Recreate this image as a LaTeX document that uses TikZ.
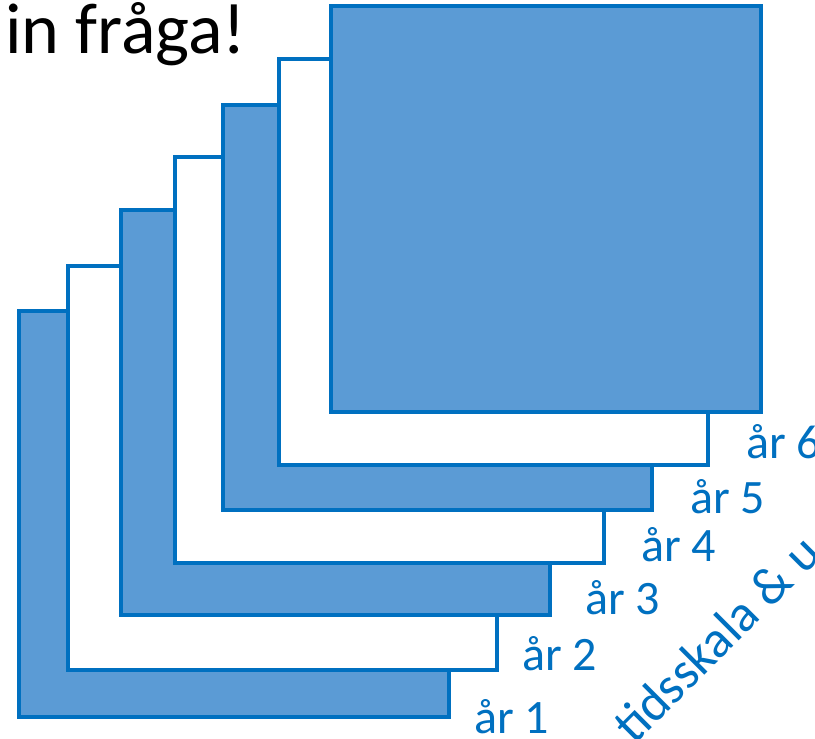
\documentclass[tikz,border=0pt]{standalone}
\usepackage{fontspec}
\setmainfont{Carlito}
\definecolor{boxfill}{HTML}{5B9BD5}
\definecolor{boxline}{HTML}{0070C0}
\tikzset{
  filledbox/.style={draw=boxline, fill=boxfill, line width=4.5pt},
  whitebox/.style={draw=boxline, fill=white, line width=4.5pt},
  yearlabel/.style={anchor=base west, inner sep=0pt, text=boxline, font=\fontsize{48}{54}\selectfont},
}
\begin{document}
\begin{tikzpicture}[x=1pt,y=-1pt]
\useasboundingbox (0,0) rectangle (815,739);
\fill[white] (0,0) rectangle (815,739);
\draw[filledbox] (19,311) rectangle (449,717);
\draw[whitebox] (68,266) rectangle (497,670);
\draw[filledbox] (121,210) rectangle (550,615);
\draw[whitebox] (175,157) rectangle (604,563);
\draw[filledbox] (223,105) rectangle (652,510);
\draw[whitebox] (279,59) rectangle (708,465);
\draw[filledbox] (331,6) rectangle (761,412);
\node[yearlabel] (y1) at (474,733) {år 1};
\node[yearlabel] (y2) at (522,670) {år 2};
\node[yearlabel] (y3) at (585,614) {år 3};
\node[yearlabel] (y4) at (641,561) {år 4};
\node[yearlabel] (y5) at (690,513) {år 5};
\node[yearlabel] (y6) at (746,458) {år 6};
\node[anchor=base west, inner sep=0pt, font=\fontsize{72}{78}\selectfont] (title) at (5,53) {in fråga!};
\node[anchor=base west, inner sep=0pt, text=boxline, rotate=45, font=\fontsize{52}{58}\selectfont] (scale) at (634,746) {tidsskala \& u};
\end{tikzpicture}
\end{document}
